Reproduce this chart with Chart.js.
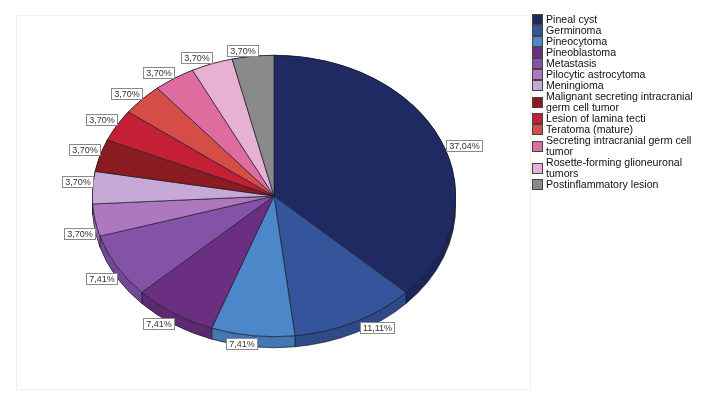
<!DOCTYPE html>
<html>
<head>
<meta charset="utf-8">
<script src="https://cdn.jsdelivr.net/npm/chart.js@4.4.1/dist/chart.umd.min.js"></script>
<style>
  html, body { margin: 0; padding: 0; background: #fff; }
  #wrap { position: relative; width: 703px; height: 402px; overflow: hidden; }
  #frame { position: absolute; left: 16px; top: 15px; width: 515px; height: 375px; border: 1px solid #f4efe2; box-sizing: border-box; }
  #pie { position: absolute; left: 0; top: 0; }
  #legend { position: absolute; left: 532px; top: 14px; width: 170px; font-family: "Liberation Sans", Arial, sans-serif; font-size: 10.6px; line-height: 11px; color: #111; }
  .item { display: flex; align-items: center; }
  .box { width: 9px; height: 9px; border: 1px solid #444; flex: none; margin-right: 3px; }
</style>
</head>
<body>
<div id="wrap">
  <div id="frame"></div>
  <canvas id="pie" width="703" height="402"></canvas>
  <div id="legend"></div>
</div>
<script>
// datos del gráfico
const categorias = [
    'Pineal cyst', 'Germinoma', 'Pineocytoma', 'Pineoblastoma', 'Metastasis',
    'Pilocytic astrocytoma', 'Meningioma', 'Malignant secreting intracranial germ cell tumor',
    'Lesion of lamina tecti', 'Teratoma (mature)', 'Secreting intracranial germ cell tumor',
    'Rosette-forming glioneuronal tumors', 'Postinflammatory lesion'
];
const porcentajes = [37.04, 11.11, 7.41, 7.41, 7.41, 3.70, 3.70, 3.70, 3.70, 3.70, 3.70, 3.70, 3.70];
const etiquetas = ['37,04%', '11,11%', '7,41%', '7,41%', '7,41%', '3,70%', '3,70%', '3,70%', '3,70%', '3,70%', '3,70%', '3,70%', '3,70%'];
// cortes de línea en la leyenda
const leyendaLineas = [
    ['Pineal cyst'], ['Germinoma'], ['Pineocytoma'], ['Pineoblastoma'], ['Metastasis'],
    ['Pilocytic astrocytoma'], ['Meningioma'], ['Malignant secreting intracranial', 'germ cell tumor'],
    ['Lesion of lamina tecti'], ['Teratoma (mature)'], ['Secreting intracranial germ cell', 'tumor'],
    ['Rosette-forming glioneuronal', 'tumors'], ['Postinflammatory lesion']
];
const colores = [
    '#1f2a62', '#34559b', '#4b87c9', '#6a2f80', '#8453a7', '#ad78bf', '#c6a9d6',
    '#8a1b20', '#c51f35', '#d64d48', '#de6c9e', '#e6b1d2', '#8a8a8a'
];

const escalaY = 141 / 182;   // aplastar el círculo en elipse
const profundidad = 11;      // grosor del canto en px

function oscurecer(hex, f) {
    const n = parseInt(hex.slice(1), 16);
    const r = Math.round(((n >> 16) & 255) * f);
    const g = Math.round(((n >> 8) & 255) * f);
    const b = Math.round((n & 255) * f);
    return `rgb(${r},${g},${b})`;
}

// leyenda en HTML (permite textos de dos líneas)
const legend = document.getElementById('legend');
leyendaLineas.forEach((lineas, i) => {
    const item = document.createElement('div');
    item.className = 'item';
    const box = document.createElement('div');
    box.className = 'box';
    box.style.background = colores[i];
    const txt = document.createElement('div');
    txt.innerHTML = lineas.join('<br>');
    item.appendChild(box);
    item.appendChild(txt);
    legend.appendChild(item);
});

const pie3d = {
    id: 'pie3d',
    beforeDatasetsDraw(chart) {
        const ctx = chart.ctx;
        const arcs = chart.getDatasetMeta(0).data;
        const cy = arcs[0].y;
        ctx.save();
        ctx.translate(0, cy);
        ctx.scale(1, escalaY);
        ctx.translate(0, -cy);
        // canto del pastel
        const d = profundidad / escalaY;
        arcs.forEach((a, i) => {
            ctx.beginPath();
            ctx.arc(a.x, a.y, a.outerRadius, a.startAngle, a.endAngle);
            ctx.arc(a.x, a.y + d, a.outerRadius, a.endAngle, a.startAngle, true);
            ctx.closePath();
            ctx.fillStyle = oscurecer(colores[i], 0.88);
            ctx.fill();
            ctx.lineWidth = 0.8;
            ctx.strokeStyle = '#1b1b2b';
            ctx.stroke();
        });
    },
    afterDatasetsDraw(chart) {
        chart.ctx.restore();
    },
    afterDraw(chart) {
        const ctx = chart.ctx;
        const arcs = chart.getDatasetMeta(0).data;
        ctx.save();
        ctx.font = '9px "Liberation Sans", Arial, sans-serif';
        ctx.textAlign = 'center';
        ctx.textBaseline = 'middle';
        arcs.forEach((a, i) => {
            const t = (a.startAngle + a.endAngle) / 2;
            const c = Math.cos(t), s = Math.sin(t);
            const px = a.x + a.outerRadius * c;
            const py = a.y + a.outerRadius * escalaY * s;
            const w = Math.round(ctx.measureText(etiquetas[i]).width + 5);
            const h = 11;
            let bx, by;
            if (c > 0.3) {
                bx = px + w / 2 + 5;
                by = py + 5.5;
            } else {
                bx = px - (w / 2) * Math.min(1, Math.abs(c) * 6);
                by = s > 0 ? py + 7 + 6 * Math.max(0, -c) : py - 6;
            }
            const x0 = Math.round(bx - w / 2) + 0.5, y0 = Math.round(by - h / 2) + 0.5;
            ctx.fillStyle = '#fff';
            ctx.fillRect(x0, y0, w, h);
            ctx.strokeStyle = '#8a8a8a';
            ctx.lineWidth = 1;
            ctx.strokeRect(x0, y0, w, h);
            ctx.fillStyle = '#333';
            ctx.fillText(etiquetas[i], x0 + w / 2, y0 + h / 2 + 0.5);
        });
        ctx.restore();
    }
};

new Chart(document.getElementById('pie'), {
    type: 'pie',
    data: {
        labels: categorias,
        datasets: [{
            data: porcentajes,
            backgroundColor: colores,
            borderColor: '#1b1b2b',
            borderWidth: 0.8
        }]
    },
    options: {
        responsive: false,
        animation: false,
        layout: { padding: { left: 92, right: 247, top: 14, bottom: 24 } },
        plugins: {
            legend: { display: false },
            tooltip: { enabled: false }
        }
    },
    plugins: [pie3d]
});
</script>
</body>
</html>
